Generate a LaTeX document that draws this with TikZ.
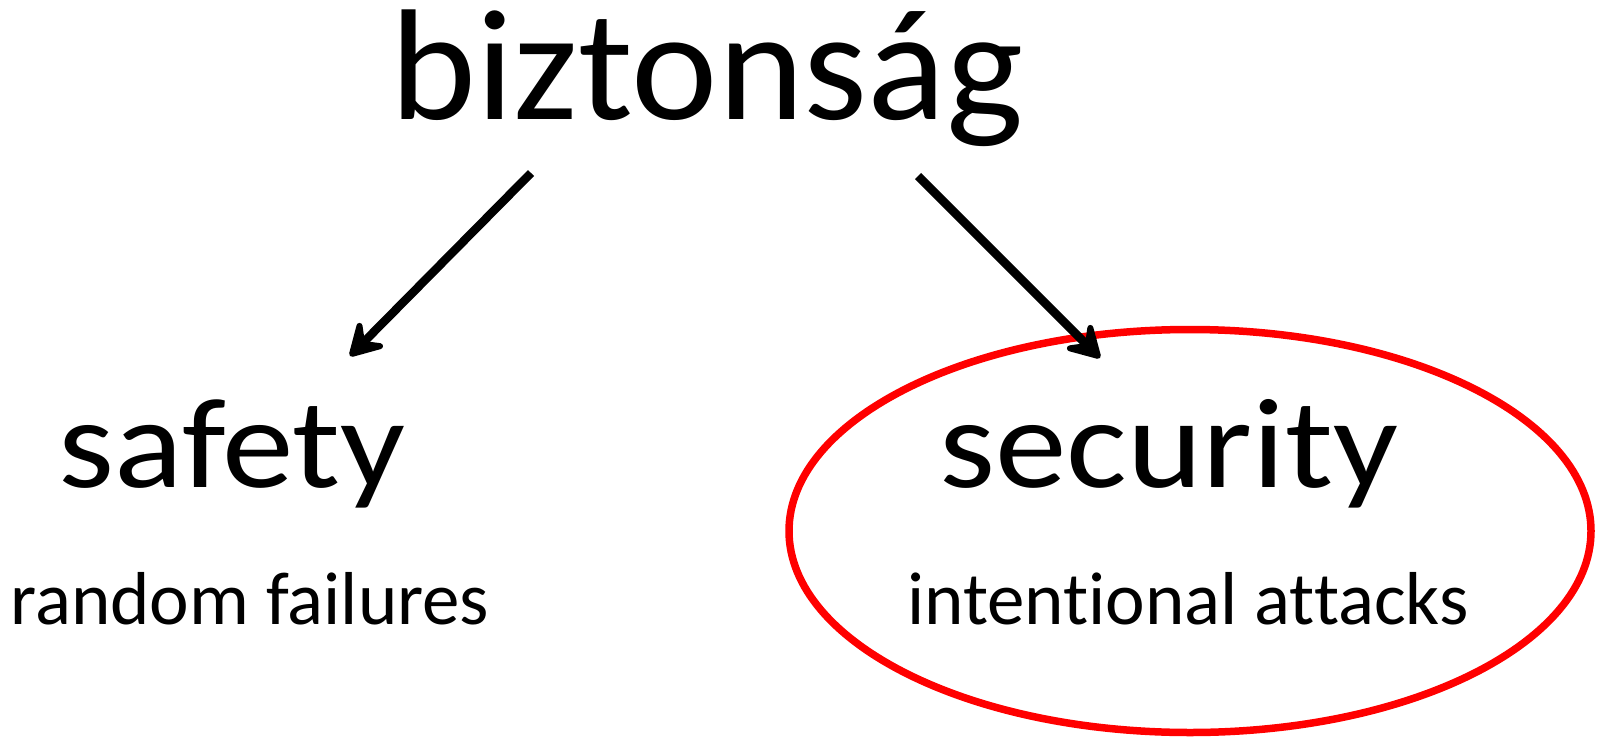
\documentclass[tikz,border=0pt]{standalone}
\usepackage{fontspec}
\setmainfont{Carlito}[Ligatures=NoCommon]
\usetikzlibrary{arrows.meta, shapes.geometric}
\tikzset{
    my-title/.style={
        anchor=base, inner sep=0pt, xscale=1.035, font=\fontsize{158}{158}\selectfont
    },
    my-word/.style={
        anchor=base, inner sep=0pt, xscale=1.12, font=\fontsize{128}{128}\selectfont
    },
    my-note/.style={
        anchor=base, inner sep=0pt, font=\fontsize{75}{75}\selectfont
    },
    my-arrow/.style={
        line width=8.5pt, -{Stealth[length=42pt, width=48pt, inset=18pt, round]}
    },
}

\begin{document}
\begin{tikzpicture}[x=1pt, y=-1pt]

        \useasboundingbox (0,0) rectangle (1598,739);

        % TITLE
        \node[my-title] (BIZ)  at (707,119)  {biztonság};

        % WORDS
        \node[my-word]  (SAF)  at (232,487)  {safety};
        \node[my-word]  (SEC)  at (1169,487) {security};

        % NOTES
        \node[my-note]  (RND)  at (250,624)  {random failures};
        \node[my-note]  (INT)  at (1188,624) {intentional attacks};

        % RING ROUND SECURITY
        \node[draw=red, line width=7.5pt, ellipse, minimum width=802pt,
              minimum height=403pt, inner sep=0pt] (RING) at (1190,531) {};

        % ARROW END POINTS
        \coordinate[] (BIZL) at (531,173);
        \coordinate[] (BIZR) at (918,176);
        \coordinate[] (SAFT) at (350,356);
        \coordinate[] (SECT) at (1100,358);

        % ARROWS
        \draw[my-arrow] (BIZL) -- (SAFT);
        \draw[my-arrow] (BIZR) -- (SECT);

    \end{tikzpicture}
\end{document}
